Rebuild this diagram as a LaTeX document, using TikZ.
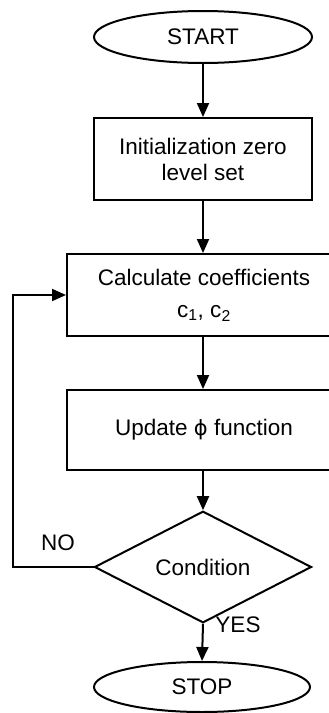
\documentclass[tikz,border=0pt]{standalone}
\usepackage{fontspec}
\setmainfont{Liberation Sans}
\newfontfamily\phifont{DejaVu Sans}
\usetikzlibrary{arrows.meta,shapes.geometric}
\begin{document}
\begin{tikzpicture}[x=1pt,y=-1pt,
  every node/.style={font=\fontsize{22.5}{26}\selectfont, inner sep=0pt},
  ln/.style={line width=2pt},
  arr/.style={ln,-{Triangle[length=14pt,width=12pt]}},
  term/.style={ln,draw,ellipse,minimum width=218pt,minimum height=52pt},
  procbox/.style={ln,draw,rectangle,align=center},
  decision/.style={ln,draw,diamond,minimum width=217pt,minimum height=81pt},
  lbl/.style={}
]
\clip (0,0) rectangle (329,713);
\fill[white] (0,0) rectangle (329,713);
\node[term] (start) at (203,37) {START};
\node[procbox,minimum width=218pt,minimum height=82pt] (box1) at (203,159) {Initialization zero\\level set};
\node[procbox,minimum width=274pt,minimum height=82pt] (box2) at (204,295) {Calculate coefficients\\[6pt]c\textsubscript{1}, c\textsubscript{2}};
\node[procbox,minimum width=274pt,minimum height=80pt] (box3) at (204,430) {Update {\phifont\fontsize{21}{26}\selectfont ϕ} function};
\node[decision] (cond) at (203,567) {Condition};
\node[term,minimum width=216pt,minimum height=50pt] (stop) at (202,687) {STOP};
\node[lbl] (no) at (58,543) {NO};
\node[lbl] (yes) at (238,625) {YES};
\coordinate (fb) at (13,567);
\draw[arr] (start) -- (box1);
\draw[arr] (box1.south) -- (box1.south |- box2.north);
\draw[arr] (box2.south -| box1.south) -- (box3.north -| box1.south);
\draw[arr] (box3.south -| box1.south) -- (cond.north);
\draw[arr] (cond.south) -- (stop.north);
\draw[arr] (cond.west) -- (fb) |- (box2.west);
\end{tikzpicture}
\end{document}
